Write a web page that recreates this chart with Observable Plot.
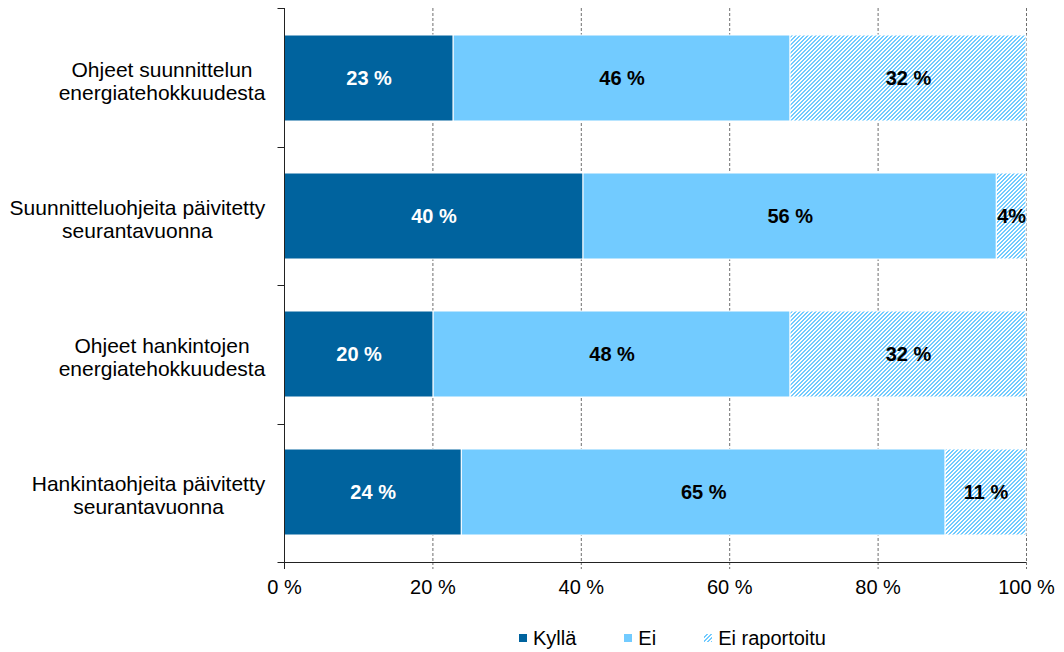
<!DOCTYPE html>
<html>
<head>
<meta charset="utf-8">
<script src="https://cdn.jsdelivr.net/npm/d3@7"></script>
<script src="https://cdn.jsdelivr.net/npm/@observablehq/plot@0.6"></script>
<style>
  body { margin: 0; background: #fff; font-family: "Liberation Sans", Arial, sans-serif; }
  #chart { position: relative; width: 1064px; height: 652px; }
  #legend { position: absolute; top: 628px; left: 519px; display: flex; align-items: center; font-size: 20px; line-height: 20px; color: #000; }
  .item { display: flex; align-items: center; margin-right: 48px; }
  .sw { width: 8px; height: 8px; margin-right: 6px; display: inline-block; }
</style>
</head>
<body>
<div id="chart"></div>
<script>
const categories = [
  "Ohjeet suunnittelun\nenergiatehokkuudesta",
  "Suunnitteluohjeita päivitetty\nseurantavuonna",
  "Ohjeet hankintojen\nenergiatehokkuudesta",
  "Hankintaohjeita päivitetty\nseurantavuonna"
];
const series = ["Kyllä", "Ei", "Ei raportoitu"];
const kylla = [22.8, 40.3, 20.1, 23.9];
const ei = [45.4, 55.7, 48.1, 65.2];
const eiRaportoitu = [31.8, 4.0, 31.8, 10.9];
const kyllaLabels = ["23 %", "40 %", "20 %", "24 %"];
const eiLabels = ["46 %", "56 %", "48 %", "65 %"];
const eiRaportoituLabels = ["32 %", "4%", "32 %", "11 %"];
const xTicks = [0, 20, 40, 60, 80, 100];
const colors = ["#00639e", "#72cbff", "url(#hatch)"];
const hatchColor = "#72cbff";

const seriesValues = [kylla, ei, eiRaportoitu];
const seriesLabels = [kyllaLabels, eiLabels, eiRaportoituLabels];
const rows = [];
categories.forEach((cat, i) => {
  series.forEach((s, j) => {
    rows.push({cat, series: s, value: seriesValues[j][i], label: seriesLabels[j][i]});
  });
});

const font = "'Liberation Sans', Arial, sans-serif";
const plot = Plot.plot({
  width: 1064,
  height: 605,
  marginLeft: 284,
  marginRight: 38,
  marginTop: 8,
  marginBottom: 43,
  style: {fontFamily: font, fontSize: "20px", background: "white", color: "black", overflow: "visible"},
  x: {domain: [0, 100]},
  y: {domain: categories, paddingInner: 0.38, paddingOuter: 0.19},
  color: {domain: series, range: colors},
  marks: [
    Plot.gridX(xTicks.filter(d => d > 0), {stroke: "#6e6e6e", strokeOpacity: 1, strokeDasharray: "3,2"}),
    Plot.axisX({ticks: xTicks, tickFormat: d => `${d} %`, tickSize: 7, tickPadding: 10, stroke: "#6e6e6e", strokeDasharray: "3,2", label: null, fontSize: 20}),
    Plot.barX(rows, Plot.stackX({x: "value", y: "cat", fill: "series", stroke: "white", strokeWidth: 1})),
    Plot.text(rows, Plot.stackX({
      x: "value", y: "cat", z: "series", text: "label",
      fill: d => d.series === "Kyllä" ? "white" : "black",
      fontWeight: "bold", fontSize: 20
    })),
    Plot.axisY({tickSize: 0, tickPadding: 19, lineHeight: 1.08, label: null, fontSize: 21, dy: 3})
  ]
});

document.getElementById("chart").appendChild(plot);

const svg = d3.select(plot);
const defs = svg.insert("defs", ":first-child");
const pat = defs.append("pattern").attr("id", "hatch").attr("patternUnits", "userSpaceOnUse")
  .attr("width", 4).attr("height", 4);
pat.append("rect").attr("width", 4).attr("height", 4).attr("fill", "white");
// pixel-staircase upward diagonal stripes (Excel "wide upward diagonal")
for (let px = 0; px < 4; px++) {
  for (let py = 0; py < 4; py++) {
    if ((px + py) % 4 >= 2) {
      pat.append("rect").attr("x", px).attr("y", py).attr("width", 1).attr("height", 1)
        .attr("fill", hatchColor).attr("shape-rendering", "crispEdges");
    }
  }
}

// axis lines and band boundary ticks
const xs = plot.scale("x"), ys = plot.scale("y");
const [yTop, yBot] = ys.range;
const x0 = Math.round(xs.apply(0)) + 0.5, x1 = xs.apply(100);
const g = svg.append("g").attr("stroke", "#222").attr("stroke-width", 1);
g.append("line").attr("x1", x0).attr("x2", x0).attr("y1", yTop).attr("y2", yBot + 7);
g.append("line").attr("x1", x0).attr("x2", x1).attr("y1", yBot + 0.5).attr("y2", yBot + 0.5);
const n = categories.length;
d3.range(n + 1).forEach(i => {
  const y = Math.round(yTop + (yBot - yTop) * i / n) + 0.5;
  g.append("line").attr("x1", x0 - 7).attr("x2", x0).attr("y1", y).attr("y2", y);
});

// center-align multi-line y labels (Excel style)
svg.selectAll('g[aria-label="y-axis tick label"] text').each(function() {
  const b = this.getBBox();
  this.setAttribute("text-anchor", "middle");
  this.setAttribute("transform", (this.getAttribute("transform") || "") + ` translate(${-b.width / 2},0)`);
});

// legend
const legend = d3.select("#chart").append("div").attr("id", "legend");
series.forEach((s, j) => {
  const it = legend.append("div").attr("class", "item");
  if (colors[j].startsWith("url")) {
    const sv = it.append("svg").attr("width", 8).attr("height", 8).style("margin-right", "6px");
    sv.append("rect").attr("width", 8).attr("height", 8).attr("fill", colors[j]);
  } else {
    it.append("span").attr("class", "sw").style("background", colors[j]);
  }
  it.append("span").text(s);
});
</script>
</body>
</html>
